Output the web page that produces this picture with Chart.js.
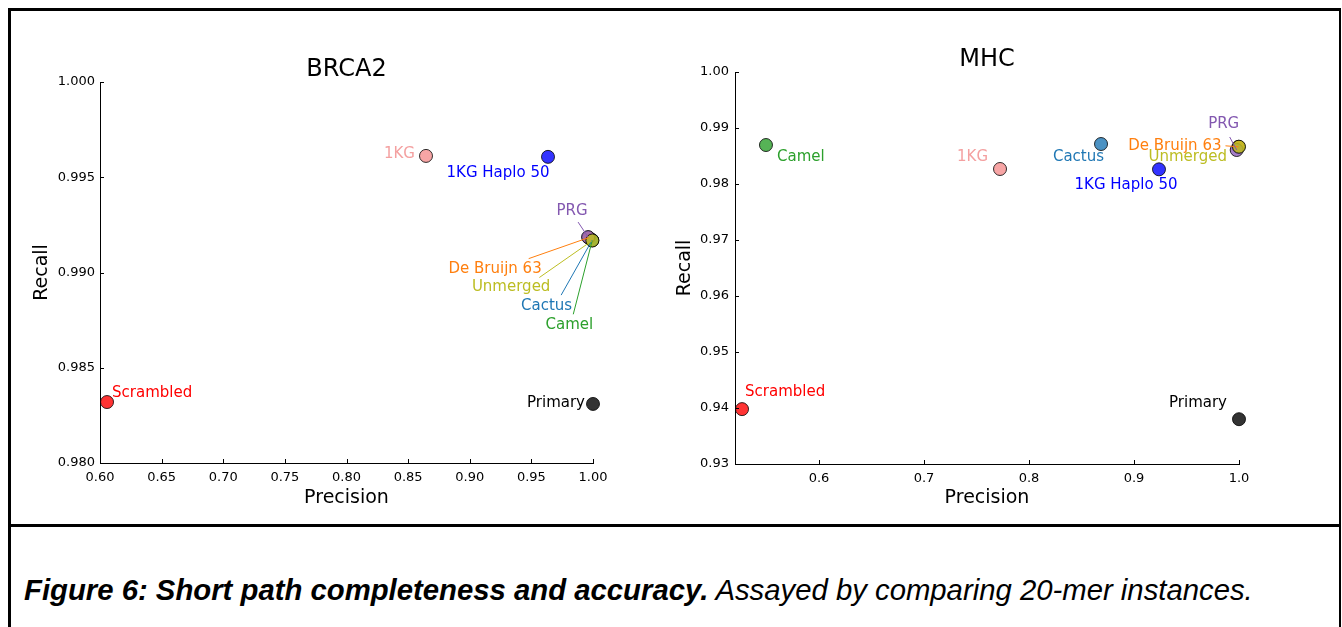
<!DOCTYPE html>
<html>
<head>
<meta charset="utf-8">
<script src="https://cdn.jsdelivr.net/npm/chart.js@4/dist/chart.umd.min.js"></script>
<style>
  body { margin: 0; background: #fff; width: 1342px; height: 627px; overflow: hidden; position: relative; }
  .line { position: absolute; background: #000; }
  canvas { position: absolute; }
  #caption { position: absolute; left: 24px; top: 575px; font-family: "Liberation Sans", Arial, sans-serif;
             font-size: 29.3px; line-height: 29px; font-style: italic; white-space: nowrap; color: #000; }
</style>
</head>
<body>
<div class="line" style="left:8px;top:8px;width:1333px;height:3px"></div>
<div class="line" style="left:8px;top:8px;width:3px;height:619px"></div>
<div class="line" style="left:1339px;top:8px;width:2px;height:619px"></div>
<div class="line" style="left:8px;top:524px;width:1333px;height:3px"></div>

<canvas id="brca" width="660" height="513" style="left:11px;top:11px"></canvas>
<canvas id="mhc" width="669" height="513" style="left:671px;top:11px"></canvas>

<div id="caption"><b>Figure 6: Short path completeness and accuracy.</b> Assayed by comparing 20-mer instances.</div>

<script>
// drawing order: later entries are drawn on top
const tools = ['Primary', 'Scrambled', '1KG', '1KG Haplo 50', 'Camel', 'Cactus', 'De Bruijn 63', 'PRG', 'Unmerged'];

const brcaPrecision = [1.0000, 0.6057, 0.8645, 0.9635, 0.9994, 0.9993, 0.9965, 0.9960, 0.9995];
const brcaRecall    = [0.98310, 0.98320, 0.99612, 0.99607, 0.99169, 0.99170, 0.99183, 0.99186, 0.99168];
const brcaXTicks = [0.60, 0.65, 0.70, 0.75, 0.80, 0.85, 0.90, 0.95, 1.00];
const brcaYTicks = [0.980, 0.985, 0.990, 0.995, 1.000];

const mhcPrecision = [1.0000, 0.5267, 0.7724, 0.9238, 0.5495, 0.8686, 0.9995, 0.9978, 1.0000];
const mhcRecall    = [0.93800, 0.93980, 0.98268, 0.98262, 0.98696, 0.98714, 0.98664, 0.98607, 0.98666];
const mhcXTicks = [0.6, 0.7, 0.8, 0.9, 1.0];
const mhcYTicks = [0.93, 0.94, 0.95, 0.96, 0.97, 0.98, 0.99, 1.00];

// colours
const fills = ['rgba(0,0,0,0.8)', 'rgba(255,0,0,0.8)', 'rgba(247,160,160,0.95)', 'rgba(0,0,255,0.8)',
  'rgba(44,160,44,0.8)', 'rgba(31,119,180,0.8)', 'rgba(255,127,14,0.85)', 'rgba(148,103,189,0.85)', 'rgba(188,189,34,0.85)'];
const textColors = ['#000000', '#ff0000', '#f4a0a0', '#0000ff', '#2ca02c', '#1f77b4', '#ff7f0e', '#8358b0', '#bcbd22'];

// label placement: [dx, dy, align, leaderDx, leaderDy] relative to the point in pixels
const brcaLabels = [
  [-8, -1, 'right'],
  [5, -9, 'left'],
  [-11, -2, 'right'],
  [-50, 16, 'center'],
  [1, 85, 'right', -19, 74],
  [-20, 66, 'right', -31, 55],
  [-47, 31, 'right', -60, 21],
  [-16, -26, 'center', -10, -15],
  [-42, 47, 'right', -53, 37]
];
const mhcLabels = [
  [-12, -16, 'right'],
  [3, -17, 'left'],
  [-12, -12, 'right'],
  [-33, 16, 'center'],
  [11, 12, 'left'],
  [3, 13, 'right'],
  [-17, -1, 'right', -13, -1],
  [-13, -26, 'center', -7, -13],
  [-12, 10, 'right']
];

const FONT = '"DejaVu Sans", sans-serif';

function annotate(title, labels, titleDy, xTicks, yTicks) {
  return {
    id: 'annotate',
    afterDraw(chart) {
      const {ctx, chartArea: a, scales: {x, y}} = chart;
      ctx.save();
      // inward tick marks
      ctx.strokeStyle = '#000';
      ctx.lineWidth = 1;
      ctx.beginPath();
      xTicks.forEach(v => {
        const px = Math.round(x.getPixelForValue(v)) + 0.5;
        ctx.moveTo(px, a.bottom); ctx.lineTo(px, a.bottom - 4);
      });
      yTicks.forEach(v => {
        const py = Math.round(y.getPixelForValue(v)) + 0.5;
        ctx.moveTo(a.left, py); ctx.lineTo(a.left + 4, py);
      });
      ctx.stroke();
      // title
      ctx.fillStyle = '#000';
      ctx.font = '24px ' + FONT;
      ctx.textAlign = 'center';
      ctx.textBaseline = 'middle';
      ctx.fillText(title, (a.left + a.right) / 2, a.top + titleDy);
      // point labels with leader lines
      ctx.font = '15px ' + FONT;
      const meta = chart.getDatasetMeta(0);
      meta.data.forEach((pt, i) => {
        const [dx, dy, align, lx, ly] = labels[i];
        if (lx !== undefined) {
          ctx.strokeStyle = textColors[i];
          ctx.beginPath();
          ctx.moveTo(pt.x + lx, pt.y + ly);
          ctx.lineTo(pt.x, pt.y);
          ctx.stroke();
        }
        ctx.fillStyle = textColors[i];
        ctx.textAlign = align;
        ctx.fillText(tools[i], pt.x + dx, pt.y + dy);
      });
      ctx.restore();
    }
  };
}

function makeChart(id, title, xs, ys, xTicks, yTicks, xDec, yDec, lim, lay, labels) {
  const points = xs.map((v, i) => ({x: v, y: ys[i]}));
  return new Chart(document.getElementById(id), {
    type: 'scatter',
    data: {
      datasets: [{
        data: points,
        backgroundColor: fills,
        borderColor: 'rgba(0,0,0,0.8)',
        borderWidth: 1,
        pointRadius: 6.5,
        pointHoverRadius: 6.5,
        clip: false
      }]
    },
    options: {
      responsive: false,
      animation: false,
      events: [],
      layout: {padding: {left: 0, top: lay.top, right: lay.right, bottom: 0}},
      plugins: {legend: {display: false}, tooltip: {enabled: false}},
      scales: {
        x: {
          type: 'linear', min: lim[0], max: lim[1],
          afterBuildTicks: s => { s.ticks = xTicks.map(v => ({value: v})); },
          afterFit: s => { s.height = lay.xh; },
          grid: {display: false, drawTicks: false},
          border: {display: true, color: '#000', width: 1},
          ticks: {padding: 7, color: '#000', font: {family: FONT, size: 13},
                  callback: v => v.toFixed(xDec), maxRotation: 0, autoSkip: false},
          title: {display: true, text: 'Precision', color: '#000', font: {family: FONT, size: 19},
                  padding: {top: 0, bottom: lay.xTitle}}
        },
        y: {
          type: 'linear', min: lim[2], max: lim[3],
          afterBuildTicks: s => { s.ticks = yTicks.map(v => ({value: v})); },
          afterFit: s => { s.width = lay.yw; },
          grid: {display: false, drawTicks: false},
          border: {display: true, color: '#000', width: 1},
          ticks: {padding: lay.yPad, color: '#000', font: {family: FONT, size: 13},
                  callback: v => v.toFixed(yDec), autoSkip: false},
          title: {display: true, text: 'Recall', color: '#000', font: {family: FONT, size: 19},
                  padding: {top: lay.yTitle, bottom: 0}}
        }
      }
    },
    plugins: [annotate(title, labels, lay.titleDy, xTicks, yTicks)]
  });
}

makeChart('brca', 'BRCA2', brcaPrecision, brcaRecall, brcaXTicks, brcaYTicks, 2, 3,
  [0.60, 1.00, 0.980, 1.000],
  {top: 71, right: 78, xh: 61, yw: 89, xTitle: 14.6, yTitle: 19.6, yPad: 5, titleDy: -12},
  brcaLabels);

makeChart('mhc', 'MHC', mhcPrecision, mhcRecall, mhcXTicks, mhcYTicks, 1, 2,
  [0.52, 1.00, 0.93, 1.00],
  {top: 61, right: 101, xh: 60, yw: 64, xTitle: 14.6, yTitle: 2.6, yPad: 6, titleDy: -12},
  mhcLabels);
</script>
</body>
</html>
